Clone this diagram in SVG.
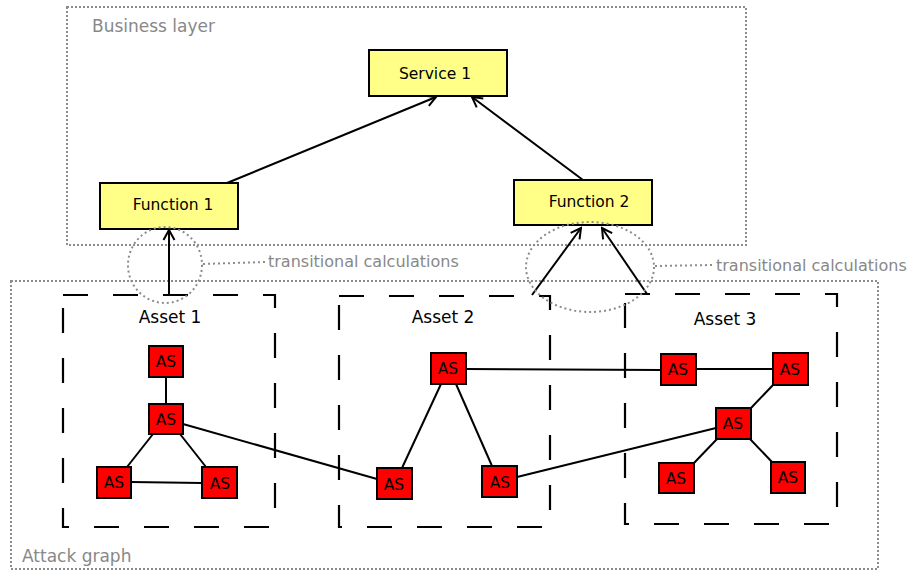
<svg xmlns="http://www.w3.org/2000/svg" width="908" height="571" viewBox="0 0 908 571">
<defs>
<style>
.frame{fill:none;stroke:#8c8c8c;stroke-width:2;stroke-dasharray:2 2}
.dot{fill:none;stroke:#8c8c8c;stroke-width:2;stroke-dasharray:2 3}
.asset{fill:none;stroke:#000;stroke-width:2.2;stroke-dasharray:25 25}
.biz{fill:#ffff88;stroke:#000;stroke-width:2}
.as{fill:#ff0000;stroke:#000;stroke-width:2}
.ln{stroke:#000;stroke-width:2;fill:none}
.lbl{font-family:"DejaVu Sans",Verdana,sans-serif;fill:#888;font-size:17px}
.tc{font-family:"DejaVu Sans",Verdana,sans-serif;fill:#888;font-size:16px}
.t{font-family:"DejaVu Sans",Verdana,sans-serif;fill:#000;text-anchor:middle}
.bt{font-size:15.5px}
.at{font-size:17px}
.ast{font-size:15.5px}
</style>
<marker id="arr" markerUnits="userSpaceOnUse" markerWidth="14" markerHeight="14" viewBox="0 0 14 14" refX="12" refY="7" orient="auto">
<path d="M2,1.5 L12,7 L2,12.5" fill="none" stroke="#000" stroke-width="2"/>
</marker>
</defs>

<g id="business-layer">
<rect class="frame" x="67" y="7" width="679" height="238"/>
<text class="lbl" x="92" y="32">Business layer</text>
</g>
<g id="attack-graph">
<rect class="frame" x="11" y="281" width="867" height="288"/>
<text class="lbl" x="22" y="562">Attack graph</text>
</g>

<g id="asset1">
<path class="asset" d="M63,295 H275 V527 H63 Z"/>
<text class="t at" x="170" y="323">Asset 1</text>
</g>
<g id="asset2">
<path class="asset" d="M339,296 H550 V527 H339 Z"/>
<text class="t at" x="443" y="323">Asset 2</text>
</g>
<g id="asset3">
<path class="asset" d="M625,294 H837 V524 H625 Z"/>
<text class="t at" x="725" y="325">Asset 3</text>
</g>

<g id="connectors">
<line class="ln" x1="227" y1="183" x2="436" y2="97" marker-end="url(#arr)"/>
<line class="ln" x1="583" y1="180" x2="472" y2="97" marker-end="url(#arr)"/>
<line class="ln" x1="169" y1="295" x2="169" y2="230" marker-end="url(#arr)"/>
<line class="ln" x1="532" y1="295" x2="581" y2="228" marker-end="url(#arr)"/>
<line class="ln" x1="647" y1="294" x2="602" y2="228" marker-end="url(#arr)"/>
<line class="ln" x1="166" y1="377" x2="166" y2="404"/>
<line class="ln" x1="153" y1="434" x2="127" y2="467"/>
<line class="ln" x1="180" y1="434" x2="206" y2="467"/>
<line class="ln" x1="131" y1="482" x2="202" y2="483"/>
<line class="ln" x1="183" y1="424" x2="377" y2="479"/>
<line class="ln" x1="441" y1="384" x2="402" y2="468"/>
<line class="ln" x1="456" y1="384" x2="492" y2="466"/>
<line class="ln" x1="466" y1="369" x2="661" y2="370"/>
<line class="ln" x1="517" y1="477" x2="716" y2="428"/>
<line class="ln" x1="696" y1="369" x2="773" y2="369"/>
<line class="ln" x1="773" y1="385" x2="751" y2="408"/>
<line class="ln" x1="717" y1="439" x2="694" y2="463"/>
<line class="ln" x1="750" y1="439" x2="772" y2="462"/>
</g>

<g id="service1">
<rect class="biz" x="369" y="50" width="138" height="46"/>
<text class="t bt" x="435" y="79">Service 1</text>
</g>
<g id="function1">
<rect class="biz" x="100" y="183" width="138" height="46"/>
<text class="t bt" x="173" y="210">Function 1</text>
</g>
<g id="function2">
<rect class="biz" x="514" y="180" width="138" height="45"/>
<text class="t bt" x="589" y="207">Function 2</text>
</g>

<g id="transitional1">
<ellipse class="dot" cx="165" cy="265" rx="37" ry="38"/>
<line class="dot" x1="203" y1="264" x2="265" y2="262"/>
<text class="tc" x="268" y="267">transitional calculations</text>
</g>
<g id="transitional2">
<ellipse class="dot" cx="590" cy="267" rx="64" ry="45"/>
<line class="dot" x1="655" y1="266" x2="713" y2="265"/>
<text class="tc" x="716" y="271">transitional calculations</text>
</g>

<g id="as-1a"><rect class="as" x="149" y="346" width="34" height="31"/><text class="t ast" x="166" y="367">AS</text></g>
<g id="as-1b"><rect class="as" x="149" y="404" width="34" height="30"/><text class="t ast" x="166" y="425">AS</text></g>
<g id="as-1c"><rect class="as" x="97" y="467" width="34" height="31"/><text class="t ast" x="114" y="488">AS</text></g>
<g id="as-1d"><rect class="as" x="202" y="467" width="35" height="31"/><text class="t ast" x="220" y="489">AS</text></g>
<g id="as-2a"><rect class="as" x="377" y="468" width="35" height="31"/><text class="t ast" x="394" y="490">AS</text></g>
<g id="as-2b"><rect class="as" x="431" y="353" width="35" height="31"/><text class="t ast" x="448" y="374">AS</text></g>
<g id="as-2c"><rect class="as" x="482" y="466" width="35" height="31"/><text class="t ast" x="500" y="488">AS</text></g>
<g id="as-3a"><rect class="as" x="661" y="354" width="35" height="31"/><text class="t ast" x="678" y="375">AS</text></g>
<g id="as-3b"><rect class="as" x="773" y="353" width="35" height="32"/><text class="t ast" x="790" y="375">AS</text></g>
<g id="as-3c"><rect class="as" x="716" y="408" width="35" height="31"/><text class="t ast" x="733" y="429">AS</text></g>
<g id="as-3d"><rect class="as" x="659" y="463" width="35" height="30"/><text class="t ast" x="676" y="484">AS</text></g>
<g id="as-3e"><rect class="as" x="771" y="462" width="34" height="31"/><text class="t ast" x="788" y="483">AS</text></g>
</svg>
